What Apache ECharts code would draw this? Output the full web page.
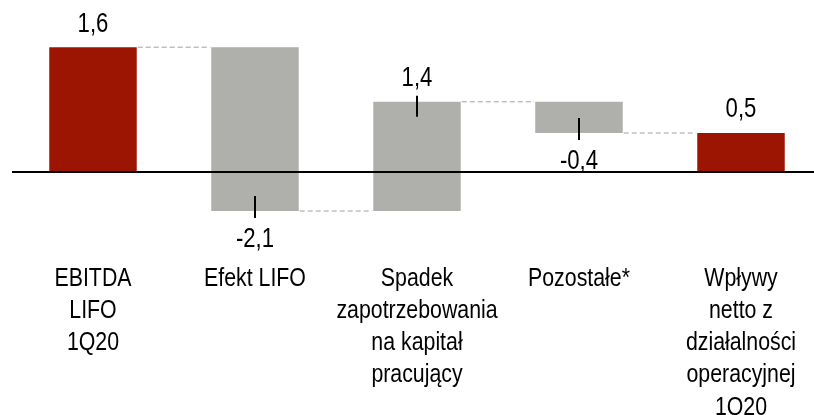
<!DOCTYPE html>
<html>
<head>
<meta charset="utf-8">
<script src="https://cdn.jsdelivr.net/npm/echarts@6/dist/echarts.min.js"></script>
<style>
html,body{margin:0;padding:0;background:#fff;}
#chart{width:814px;height:415px;}
</style>
</head>
<body>
<div id="chart"></div>
<script>
const categories = ['EBITDA\nLIFO\n1Q20', 'Efekt LIFO', 'Spadek\nzapotrzebowania\nna kapitał\npracujący', 'Pozostałe*', 'Wpływy\nnetto z\ndziałalności\noperacyjnej\n1Q20'];
const values = [1.6, -2.1, 1.4, -0.4, 0.5];
const isTotal = [true, false, false, false, true];

const RED = '#9C1502';
const GRAY = '#AFAFAB';
const FONT = '"Liberation Sans", Arial, sans-serif';
const NARROW = 0.82;

// build [index, start, end, value] from values
const barData = [];
let running = 0;
values.forEach((v, i) => {
  let s, e;
  if (isTotal[i]) { s = 0; e = v; running = v; }
  else { s = running; e = running + v; running = e; }
  barData.push([i, Math.round(s * 100) / 100, Math.round(e * 100) / 100, v]);
});

function fmt(v) { return v.toFixed(1).replace('.', ','); }

const chart = echarts.init(document.getElementById('chart'));
chart.setOption({
  animation: false,
  grid: { left: 12, width: 810, top: 16, height: 234, outerBoundsMode: 'none', containLabel: false },
  xAxis: {
    type: 'category',
    data: categories,
    axisLine: { show: false },
    axisTick: { show: false },
    axisLabel: { show: false }
  },
  yAxis: {
    type: 'value', min: -1, max: 2, interval: 1,
    show: false, splitLine: { show: false }
  },
  series: [{
    type: 'custom',
    clip: false,
    data: barData,
    encode: { x: 0, y: [1, 2] },
    renderItem: function (params, api) {
      const i = api.value(0), s = api.value(1), e = api.value(2), v = api.value(3);
      const p0 = api.coord([i, s]);
      const p1 = api.coord([i, e]);
      const bw = api.size([1, 0])[0] * 0.54;
      const cx = p0[0];
      const x = cx - bw / 2;
      const top = Math.min(p0[1], p1[1]);
      const bottom = Math.max(p0[1], p1[1]);
      const axisBottom = api.coord([i, -1])[1];
      const children = [];
      children.push({
        type: 'rect',
        shape: { x: x, y: top, width: bw, height: bottom - top },
        style: { fill: isTotal[i] ? RED : GRAY }
      });
      if (i < values.length - 1) {
        const nx = api.coord([i + 1, e])[0] - bw / 2;
        children.push({
          type: 'line',
          shape: { x1: x + bw + 1, y1: p1[1], x2: nx - 1, y2: p1[1] },
          style: { stroke: '#A0A0A0', lineWidth: 1, lineDash: [5, 3] }
        });
      }
      let ty;
      if (v >= 0) {
        ty = top - 23;
        if (!isTotal[i]) {
          children.push({ type: 'line', shape: { x1: cx, y1: top - 6, x2: cx, y2: top + 15 },
            style: { stroke: '#000', lineWidth: 2 } });
        }
      } else {
        ty = bottom + 28.5;
        children.push({ type: 'line', shape: { x1: cx, y1: bottom - 15, x2: cx, y2: bottom + 7 },
          style: { stroke: '#000', lineWidth: 2 } });
      }
      children.push({
        type: 'text', x: cx, y: ty, scaleX: NARROW,
        style: {
          x: 0, y: 0, text: fmt(v), fill: '#000',
          font: '27px ' + FONT, align: 'center', verticalAlign: 'middle'
        }
      });
      children.push({
        type: 'text', x: cx, y: axisBottom + 12.5, scaleX: NARROW,
        style: {
          x: 0, y: 0, text: categories[i], fill: '#000',
          font: '26px ' + FONT, lineHeight: 32.2, align: 'center', verticalAlign: 'top'
        }
      });
      return { type: 'group', children: children };
    },
    markLine: {
      silent: true,
      symbol: ['none', 'none'],
      label: { show: false },
      lineStyle: { color: '#000', width: 2, type: 'solid' },
      data: [{ yAxis: 0 }]
    },
    z: 2
  }]
});
</script>
</body>
</html>
